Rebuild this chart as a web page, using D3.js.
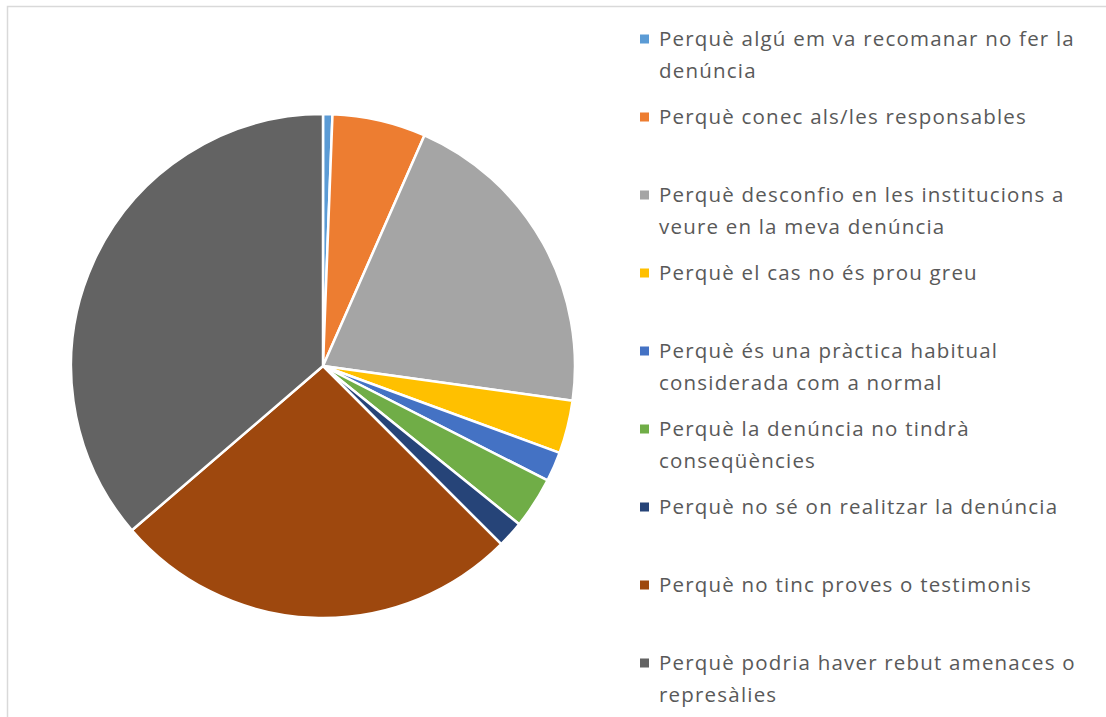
<!DOCTYPE html>
<html>
<head>
<meta charset="utf-8">
<script src="https://cdn.jsdelivr.net/npm/d3@7"></script>
<style>
  body { margin: 0; background: #fff; }
  text { font-family: "Open Sans", sans-serif; fill: #595959; }
</style>
</head>
<body>
<svg id="chart" width="1106" height="717"></svg>
<script>
// reasons (legend lines already wrapped as in the chart)
var labels = [
  ["Perquè algú em va recomanar no fer la", "denúncia"],
  ["Perquè conec als/les responsables"],
  ["Perquè desconfio en les institucions a", "veure en la meva denúncia"],
  ["Perquè el cas no és prou greu"],
  ["Perquè és una pràctica habitual", "considerada com a normal"],
  ["Perquè la denúncia no tindrà", "conseqüències"],
  ["Perquè no sé on realitzar la denúncia"],
  ["Perquè no tinc proves o testimonis"],
  ["Perquè podria haver rebut amenaces o", "represàlies"]
];
// share of answers (%)
var values = [0.6, 6.0, 20.6, 3.4, 1.9, 3.3, 1.7, 26.2, 36.3];
var colors = ["#5B9BD5", "#ED7D31", "#A5A5A5", "#FFC000", "#4472C4",
              "#70AD47", "#264478", "#9E480E", "#636363"];

var svg = d3.select("#chart");

// chart area border
svg.append("rect")
    .attr("x", 7.5).attr("y", 6.5)
    .attr("width", 1110).attr("height", 720)
    .attr("fill", "none")
    .attr("stroke", "#d9d9d9")
    .attr("stroke-width", 1.5);

var cx = 323, cy = 366, r = 252;

var pie = d3.pie().sort(null).value(function(d) { return d; });
var arc = d3.arc().innerRadius(0).outerRadius(r);

svg.append("g")
    .attr("transform", "translate(" + cx + "," + cy + ")")
  .selectAll("path")
    .data(pie(values))
    .enter().append("path")
    .attr("d", arc)
    .attr("fill", function(d, i) { return colors[i]; })
    .attr("stroke", "#fff")
    .attr("stroke-width", 2.5)
    .attr("stroke-linejoin", "round");

// Legend
var y0 = 39, step = 78, lineH = 32;
var leg = svg.append("g").attr("class", "legend");
var item = leg.selectAll("g")
    .data(labels)
    .enter().append("g")
    .attr("transform", function(d, i) { return "translate(640," + (y0 + i * step) + ")"; });

item.append("rect")
    .attr("x", 0).attr("y", -4.5)
    .attr("width", 9).attr("height", 9)
    .attr("fill", function(d, i) { return colors[i]; });

item.selectAll("text")
    .data(function(d) { return d; })
    .enter().append("text")
    .attr("x", 19)
    .attr("y", function(d, j) { return j * lineH; })
    .attr("dy", "0.36em")
    .style("font-size", "20.5px")
    .style("letter-spacing", "1.2px")
    .text(function(d) { return d; });
</script>
</body>
</html>
